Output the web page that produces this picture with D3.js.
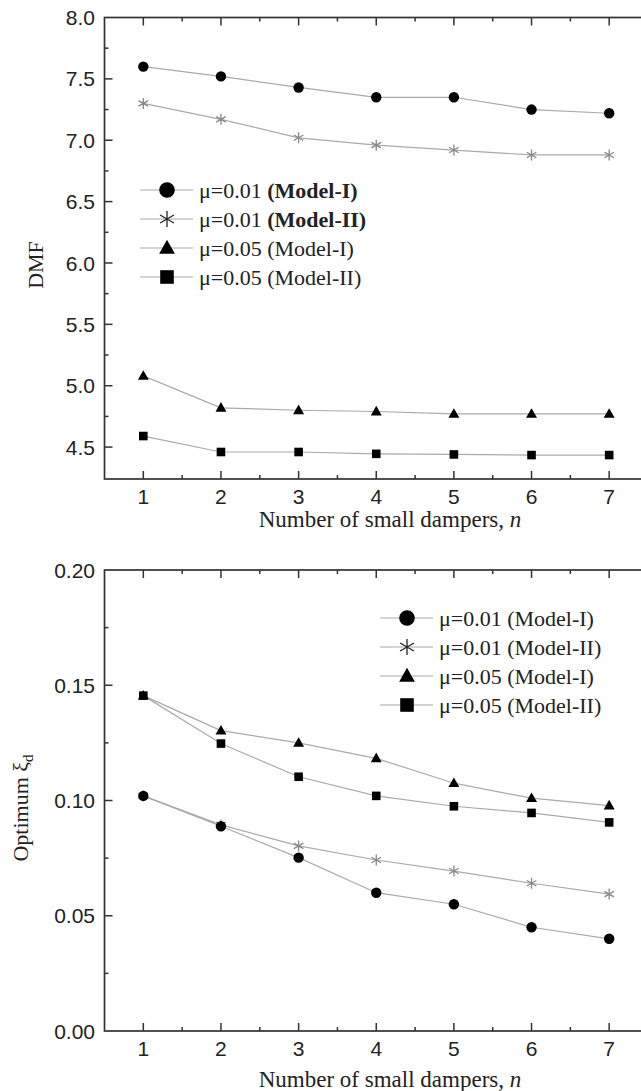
<!DOCTYPE html>
<html>
<head>
<meta charset="utf-8">
<script src="https://cdn.jsdelivr.net/npm/d3@7"></script>
<style>
  body { margin: 0; background: #fff; }
  svg { display: block; }
  .tick-label { font-family: "Liberation Sans", Arial, sans-serif; font-size: 21px; fill: #222; }
  .serif { font-family: "Liberation Serif", "Times New Roman", serif; fill: #222; }
</style>
</head>
<body>
<div id="chart"></div>
<script>
// data
const nValues = [1, 2, 3, 4, 5, 6, 7];

const dmfMu01Model1 = [7.60, 7.52, 7.43, 7.35, 7.35, 7.25, 7.22];
const dmfMu01Model2 = [7.30, 7.17, 7.02, 6.96, 6.92, 6.88, 6.88];
const dmfMu05Model1 = [5.08, 4.82, 4.80, 4.79, 4.77, 4.77, 4.77];
const dmfMu05Model2 = [4.59, 4.46, 4.46, 4.445, 4.44, 4.435, 4.435];

const xiMu01Model1 = [0.102, 0.0888, 0.0752, 0.0600, 0.0550, 0.0450, 0.0400];
const xiMu01Model2 = [0.102, 0.0894, 0.0803, 0.0742, 0.0694, 0.0641, 0.0594];
const xiMu05Model1 = [0.1455, 0.1303, 0.1250, 0.1183, 0.1075, 0.1010, 0.0978];
const xiMu05Model2 = [0.1455, 0.1247, 0.1103, 0.1020, 0.0975, 0.0946, 0.0905];

const seriesMu = ["μ=0.01", "μ=0.01", "μ=0.05", "μ=0.05"];
const seriesModel = ["(Model-I)", "(Model-II)", "(Model-I)", "(Model-II)"];
const seriesShape = ["circle", "star", "triangle", "square"];
const markerOrder = [1, 0, 2, 3]; // stars underneath the circles

const dmfTicks = [4.5, 5.0, 5.5, 6.0, 6.5, 7.0, 7.5, 8.0];
const xiTicks = [0.00, 0.05, 0.10, 0.15, 0.20];
const xTitle = "Number of small dampers, ";

const W = 641, H = 1091;
const svg = d3.select("#chart").append("svg")
    .attr("width", W)
    .attr("height", H);

const axisColor = "#333";
const lineColor = "#aaa";

// marker path for each shape, s = half size
function markerPath(shape, s) {
    if (shape === "circle") return d3.symbol(d3.symbolCircle, Math.PI * s * s)();
    if (shape === "square") return `M${-s},${-s}H${s}V${s}H${-s}Z`;
    if (shape === "triangle") return `M0,${-s * 1.1}L${s * 1.05},${s * 0.75}L${-s * 1.05},${s * 0.75}Z`;
    // star: vertical + two diagonals
    let d = `M0,${-s}V${s}`;
    let c = s * 0.87;
    d += `M${-c},${-s * 0.5}L${c},${s * 0.5}M${-c},${s * 0.5}L${c},${-s * 0.5}`;
    return d;
}

function drawMarker(g, shape, x, y, s, starColor) {
    let p = g.append("path")
        .attr("transform", `translate(${x},${y})`)
        .attr("d", markerPath(shape, s));
    if (shape === "star") {
        p.attr("fill", "none").attr("stroke", starColor).attr("stroke-width", 1.3);
    } else {
        p.attr("fill", "#000");
    }
}

function drawPanel(cfg) {
    let g = svg.append("g");

    let x = d3.scaleLinear().domain([0.5, 7.5]).range([104.5, 648]);
    let y = d3.scaleLinear().domain(cfg.domain).range([cfg.bottom, cfg.top]);

    // frame
    g.append("rect")
        .attr("x", x(0.5))
        .attr("y", y(cfg.domain[1]))
        .attr("width", x(7.5) - x(0.5))
        .attr("height", y(cfg.domain[0]) - y(cfg.domain[1]))
        .attr("fill", "none")
        .attr("stroke", axisColor)
        .attr("stroke-width", 1.7);

    // x ticks, inward at bottom and top
    let xMajor = nValues;
    let xMinor = d3.range(1.5, 7.5, 1);
    [[xMajor, 8], [xMinor, 4]].forEach(([vals, len]) => {
        g.selectAll(null).data(vals).join("line")
            .attr("x1", d => x(d)).attr("x2", d => x(d))
            .attr("y1", y.range()[0]).attr("y2", y.range()[0] - len)
            .attr("stroke", axisColor).attr("stroke-width", 1.5);
        g.selectAll(null).data(vals).join("line")
            .attr("x1", d => x(d)).attr("x2", d => x(d))
            .attr("y1", y.range()[1]).attr("y2", y.range()[1] + len)
            .attr("stroke", axisColor).attr("stroke-width", 1.5);
    });

    g.selectAll(null).data(xMajor).join("text")
        .attr("class", "tick-label")
        .attr("x", d => x(d))
        .attr("y", cfg.bottom + 25)
        .attr("text-anchor", "middle")
        .text(d => d);

    // y ticks, inward
    let yMinor = cfg.ticks.slice(0, -1).map((t, i) => (t + cfg.ticks[i + 1]) / 2);
    [[cfg.ticks, 8], [yMinor, 4]].forEach(([vals, len]) => {
        g.selectAll(null).data(vals.filter(v => v > cfg.domain[0] && v < cfg.domain[1])).join("line")
            .attr("x1", x(0.5)).attr("x2", x(0.5) + len)
            .attr("y1", d => y(d)).attr("y2", d => y(d))
            .attr("stroke", axisColor).attr("stroke-width", 1.5);
    });

    g.selectAll(null).data(cfg.ticks).join("text")
        .attr("class", "tick-label")
        .attr("x", 95)
        .attr("y", d => y(d))
        .attr("dy", "0.36em")
        .attr("text-anchor", "end")
        .text(d => cfg.format(d));

    // x title
    let xt = g.append("text")
        .attr("class", "serif")
        .attr("x", 390)
        .attr("y", cfg.bottom + cfg.xTitleGap)
        .attr("text-anchor", "middle")
        .style("font-size", "23px")
        .text(xTitle);
    xt.append("tspan").style("font-style", "italic").text("n");

    // y title
    let yt = g.append("text")
        .attr("class", "serif")
        .attr("transform", `translate(${cfg.yTitleX},${cfg.yTitleY}) rotate(-90)`)
        .attr("text-anchor", "middle")
        .attr("dy", "0.35em")
        .style("font-size", "22px")
        .text(cfg.yTitle);
    if (cfg.yTitleSub) {
        yt.append("tspan").text(" ξ");
        yt.append("tspan")
            .attr("dy", "5")
            .style("font-size", "15px")
            .text(cfg.yTitleSub);
    }

    // series lines then markers
    let line = d3.line().x((d, i) => x(nValues[i])).y(d => y(d));
    cfg.series.forEach(vals => {
        g.append("path")
            .attr("d", line(vals))
            .attr("fill", "none")
            .attr("stroke", lineColor)
            .attr("stroke-width", 1.2);
    });
    markerOrder.forEach(k => {
        cfg.series[k].forEach((v, i) => {
            let s = { circle: 5.2, star: 5.5, triangle: 5.2, square: 4.3 }[seriesShape[k]];
            drawMarker(g, seriesShape[k], x(nValues[i]), y(v), s, "#888");
        });
    });

    // legend
    seriesShape.forEach((shape, k) => {
        let ly = cfg.legendY + k * 29;
        g.append("line")
            .attr("x1", cfg.legendX).attr("x2", cfg.legendX + 53)
            .attr("y1", ly).attr("y2", ly)
            .attr("stroke", lineColor).attr("stroke-width", 1.2);
        let s = { circle: 7.8, star: 8, triangle: 7.5, square: 6.8 }[shape];
        drawMarker(g, shape, cfg.legendX + 27, ly, s, "#222");
        let t = g.append("text")
            .attr("class", "serif")
            .attr("x", cfg.legendX + 59)
            .attr("y", ly)
            .attr("dy", "0.35em")
            .style("font-size", "22px")
            .text(seriesMu[k] + " ");
        t.append("tspan")
            .style("font-weight", cfg.boldModels[k] ? "bold" : "normal")
            .text(seriesModel[k]);
    });
}

drawPanel({
    domain: [4.24, 8.0],
    top: 17.5,
    bottom: 479,
    ticks: dmfTicks,
    format: d3.format(".1f"),
    yTitle: "DMF",
    yTitleX: 35,
    yTitleY: 265,
    xTitleGap: 48,
    series: [dmfMu01Model1, dmfMu01Model2, dmfMu05Model1, dmfMu05Model2],
    legendX: 140,
    legendY: 190,
    boldModels: [true, true, false, false]
});

drawPanel({
    domain: [0, 0.20],
    top: 570,
    bottom: 1031,
    ticks: xiTicks,
    format: d3.format(".2f"),
    yTitle: "Optimum",
    yTitleSub: "d",
    yTitleX: 20,
    yTitleY: 808,
    xTitleGap: 56,
    series: [xiMu01Model1, xiMu01Model2, xiMu05Model1, xiMu05Model2],
    legendX: 380,
    legendY: 618,
    boldModels: [false, false, false, false]
});
</script>
</body>
</html>
